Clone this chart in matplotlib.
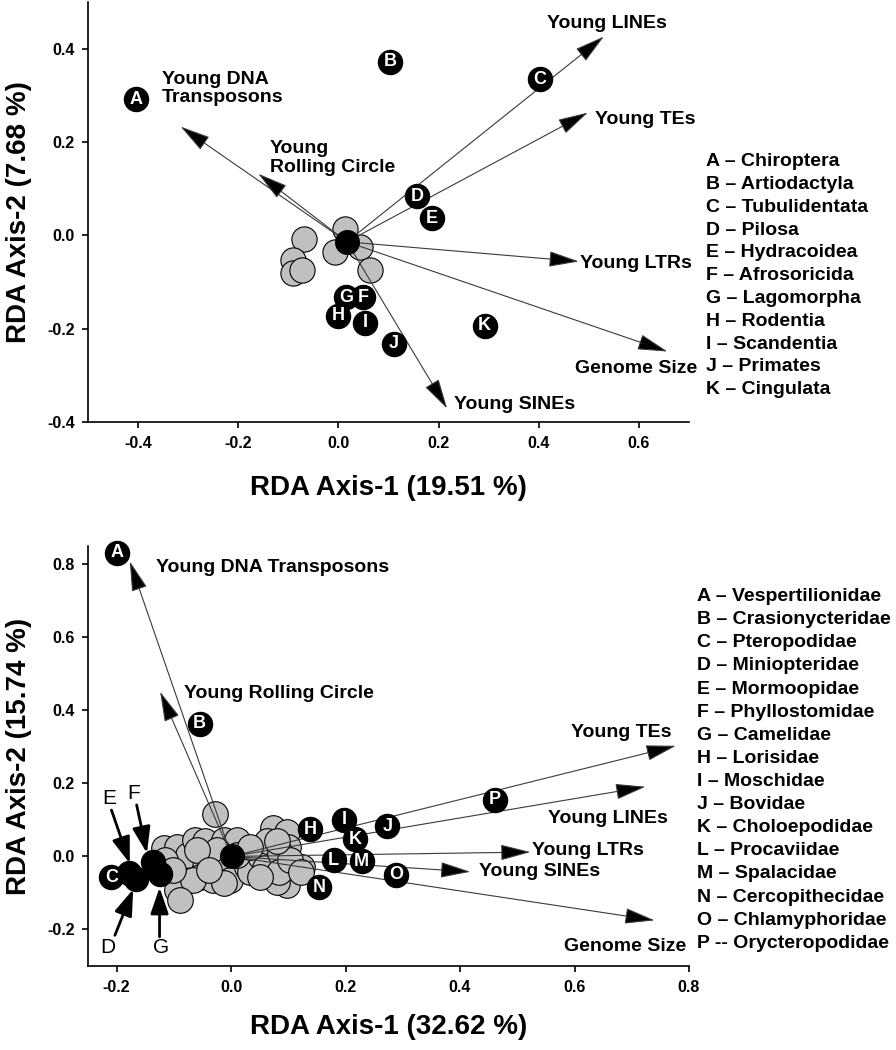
import matplotlib
matplotlib.use("Agg")
import matplotlib.pyplot as plt

plt.rcParams["font.family"] = ["Liberation Sans", "DejaVu Sans"]
plt.rcParams["font.weight"] = "bold"
plt.rcParams["axes.unicode_minus"] = False

# -----------------------------
# Top panel data (orders)
# -----------------------------
top_grey_x = [-0.069, -0.090, -0.090, -0.073, 0.013, -0.007, 0.043, 0.063]
top_grey_y = [-0.007, -0.052, -0.081, -0.074, 0.014, -0.036, -0.024, -0.074]
top_centroid = (0.017, -0.014)

top_letters = ["A", "B", "C", "D", "E", "F", "G", "H", "I", "J", "K"]
top_let_x = [-0.405, 0.103, 0.402, 0.157, 0.187, 0.050, 0.015, 0.000, 0.053, 0.111, 0.292]
top_let_y = [0.292, 0.372, 0.335, 0.084, 0.037, -0.133, -0.133, -0.172, -0.187, -0.232, -0.194]

top_vars = ["Young DNA\nTransposons", "Young\nRolling Circle", "Young LINEs", "Young TEs",
            "Young LTRs", "Genome Size", "Young SINEs"]
top_arrow_x = [-0.315, -0.160, 0.530, 0.498, 0.480, 0.657, 0.217]
top_arrow_y = [0.233, 0.132, 0.426, 0.263, -0.056, -0.249, -0.371]

top_names = ["Chiroptera", "Artiodactyla", "Tubulidentata", "Pilosa", "Hydracoidea",
             "Afrosoricida", "Lagomorpha", "Rodentia", "Scandentia", "Primates", "Cingulata"]

# -----------------------------
# Bottom panel data (families)
# -----------------------------
bot_grey_x = [-0.028, -0.118, -0.095, -0.086, -0.095, -0.075, -0.063, -0.045, -0.045, -0.054,
              -0.031, -0.013, 0.010, -0.025, -0.007, -0.002, 0.028, 0.033, 0.051, 0.060,
              0.074, 0.098, 0.063, 0.100, 0.086, 0.124, 0.098, 0.080, 0.083, -0.115,
              -0.066, 0.010, -0.013, 0.051, -0.060, 0.103, -0.101, 0.080, 0.033, -0.090,
              -0.038, 0.122]
bot_grey_y = [0.116, 0.022, 0.027, -0.051, -0.092, 0.004, 0.045, 0.041, -0.028, -0.055,
              -0.064, 0.045, 0.045, 0.018, -0.037, -0.064, -0.028, -0.042, 0.000, -0.032,
              0.077, 0.068, 0.041, 0.027, 0.009, -0.028, -0.078, -0.069, -0.042, -0.010,
              -0.064, 0.004, -0.073, -0.055, 0.018, -0.010, -0.037, 0.041, 0.027, -0.120,
              -0.037, -0.042]
bot_centroid = (0.001, 0.000)

bot_letters = ["A", "B", "C", "D", "E", "F", "G", "H", "I", "J", "K", "L", "M", "N", "O", "P"]
bot_let_x = [-0.200, -0.055, -0.209, -0.166, -0.178, -0.137, -0.124, 0.138, 0.197, 0.273,
             0.217, 0.179, 0.228, 0.154, 0.288, 0.461]
bot_let_y = [0.832, 0.363, -0.057, -0.062, -0.045, -0.014, -0.048, 0.075, 0.100, 0.082,
             0.047, -0.010, -0.013, -0.084, -0.050, 0.155]
bot_outside = ["D", "E", "F", "G"]

bot_vars = ["Young DNA Transposons", "Young Rolling Circle", "Young TEs", "Young LINEs",
            "Young LTRs", "Young SINEs", "Genome Size"]
bot_arrow_x = [-0.177, -0.124, 0.777, 0.724, 0.523, 0.418, 0.740]
bot_arrow_y = [0.808, 0.451, 0.303, 0.191, 0.012, -0.042, -0.175]

bot_names = ["Vespertilionidae", "Crasionycteridae", "Pteropodidae", "Miniopteridae",
             "Mormoopidae", "Phyllostomidae", "Camelidae", "Lorisidae", "Moschidae", "Bovidae",
             "Choloepodidae", "Procaviidae", "Spalacidae", "Cercopithecidae", "Chlamyphoridae",
             "Orycteropodidae"]

# label placement (x, y, ha) for the vector names
top_label_pos = [(-0.353, 0.314, "left"), (-0.137, 0.166, "left"), (0.417, 0.454, "left"),
                 (0.513, 0.249, "left"), (0.483, -0.061, "left"), (0.717, -0.285, "right"),
                 (0.231, -0.363, "left")]
bot_label_pos = [(-0.131, 0.790, "left"), (-0.082, 0.447, "left"), (0.593, 0.338, "left"),
                 (0.553, 0.105, "left"), (0.526, 0.015, "left"), (0.433, -0.040, "left"),
                 (0.795, -0.247, "right")]
# pointer labels for the crowded bats: letter -> (text xy, arrow start, arrow end)
pointer_pos = {"E": ((-0.213, 0.159), (-0.209, 0.127), (-0.177, -0.019)),
               "F": ((-0.171, 0.173), (-0.165, 0.141), (-0.147, 0.009)),
               "D": ((-0.215, -0.249), (-0.203, -0.216), (-0.171, -0.090)),
               "G": ((-0.122, -0.249), (-0.125, -0.220), (-0.125, -0.085))}


def style_axes(ax, xlim, ylim, xticks, yticks, xlabel, ylabel, xlab_y):
    ax.set_xlim(*xlim)
    ax.set_ylim(*ylim)
    ax.set_xticks(xticks)
    ax.set_yticks(yticks)
    ax.set_xticklabels([f"{v:.1f}" for v in xticks])
    ax.set_yticklabels([f"{v:.1f}" for v in yticks])
    for s in ["top", "right"]:
        ax.spines[s].set_visible(False)
    for s in ["left", "bottom"]:
        ax.spines[s].set_linewidth(1.2)
    ax.tick_params(direction="out", length=4, width=1.2, labelsize=11.5)
    ax.tick_params(axis="x", pad=6)
    ax.tick_params(axis="y", pad=5.5)
    ax.set_xlabel(xlabel, fontsize=20, fontweight="bold", va="center")
    ax.set_ylabel(ylabel, fontsize=20, fontweight="bold", va="center")
    ax.xaxis.set_label_coords(0.5, xlab_y)
    ax.yaxis.set_label_coords(-0.114, 0.5)


def draw_vectors(ax, origin, tx, ty, names, label_pos):
    for x, y, name, (lx, ly, ha) in zip(tx, ty, names, label_pos):
        ax.annotate("", xy=(x, y), xytext=origin,
                    arrowprops=dict(arrowstyle="-|>,head_length=1.9,head_width=0.5",
                                    mutation_scale=10, fc="black", ec="#3a3a3a", lw=0.8,
                                    shrinkA=0, shrinkB=0),
                    zorder=3)
        ax.text(lx, ly, name, ha=ha, va="center", fontsize=14, fontweight="bold",
                linespacing=1.1, zorder=6)


fig = plt.figure(figsize=(8.96, 10.5), dpi=100)

# -----------------------------
# Top panel
# -----------------------------
ax1 = fig.add_axes([88 / 896, 1 - 422 / 1050, 601 / 896, 420 / 1050])
ax1.scatter(top_grey_x, top_grey_y, s=330, c="#c0c0c0", edgecolors="black",
            linewidths=0.8, zorder=2)
draw_vectors(ax1, top_centroid, top_arrow_x, top_arrow_y, top_vars, top_label_pos)
ax1.scatter([top_centroid[0]], [top_centroid[1]], s=290, c="black", zorder=4)
ax1.scatter(top_let_x, top_let_y, s=300, c="black", zorder=4, clip_on=False)
for L, x, y in zip(top_letters, top_let_x, top_let_y):
    ax1.text(x, y, L, color="white", ha="center", va="center", fontsize=13,
             fontweight="bold", zorder=5)
style_axes(ax1, (-0.5, 0.7), (-0.4, 0.5), [-0.4, -0.2, 0.0, 0.2, 0.4, 0.6],
           [-0.4, -0.2, 0.0, 0.2, 0.4], "RDA Axis-1 (19.51 %)", "RDA Axis-2 (7.68 %)", -0.157)

for i, (L, name) in enumerate(zip(top_letters, top_names)):
    fig.text(706 / 896, 1 - (161.7 + i * 22.8) / 1050, f"{L} \u2013 {name}",
             fontsize=14, fontweight="bold", va="center", ha="left")

# -----------------------------
# Bottom panel
# -----------------------------
ax2 = fig.add_axes([88 / 896, 1 - 966 / 1050, 601 / 896, 420 / 1050])
ax2.scatter(bot_grey_x, bot_grey_y, s=340, c="#c0c0c0", edgecolors="black",
            linewidths=0.8, zorder=2)
draw_vectors(ax2, bot_centroid, bot_arrow_x, bot_arrow_y, bot_vars, bot_label_pos)
ax2.scatter([bot_centroid[0]], [bot_centroid[1]], s=290, c="black", zorder=4)
ax2.scatter(bot_let_x, bot_let_y, s=300, c="black", zorder=4, clip_on=False)
for L, x, y in zip(bot_letters, bot_let_x, bot_let_y):
    if L in bot_outside:
        (tx, ty), start, end = pointer_pos[L]
        ax2.text(tx, ty, L, ha="center", va="center", fontsize=15, fontweight="normal",
                 zorder=6)
        ax2.annotate("", xy=end, xytext=start,
                     arrowprops=dict(arrowstyle="-|>,head_length=1.6,head_width=0.55",
                                     mutation_scale=10, fc="black", ec="black", lw=2,
                                     shrinkA=0, shrinkB=0),
                     zorder=6)
    else:
        ax2.text(x, y, L, color="white", ha="center", va="center", fontsize=13,
                 fontweight="bold", zorder=5)
style_axes(ax2, (-0.25, 0.8), (-0.3, 0.85), [-0.2, 0.0, 0.2, 0.4, 0.6, 0.8],
           [-0.2, 0.0, 0.2, 0.4, 0.6, 0.8], "RDA Axis-1 (32.62 %)", "RDA Axis-2 (15.74 %)",
           -0.145)

for i, (L, name) in enumerate(zip(bot_letters, bot_names)):
    dash = "--" if L == "P" else "\u2013"
    fig.text(697 / 896, 1 - (596.7 + i * 23.1) / 1050, f"{L} {dash} {name}",
             fontsize=14, fontweight="bold", va="center", ha="left")

fig.savefig("out.png", dpi=100)
